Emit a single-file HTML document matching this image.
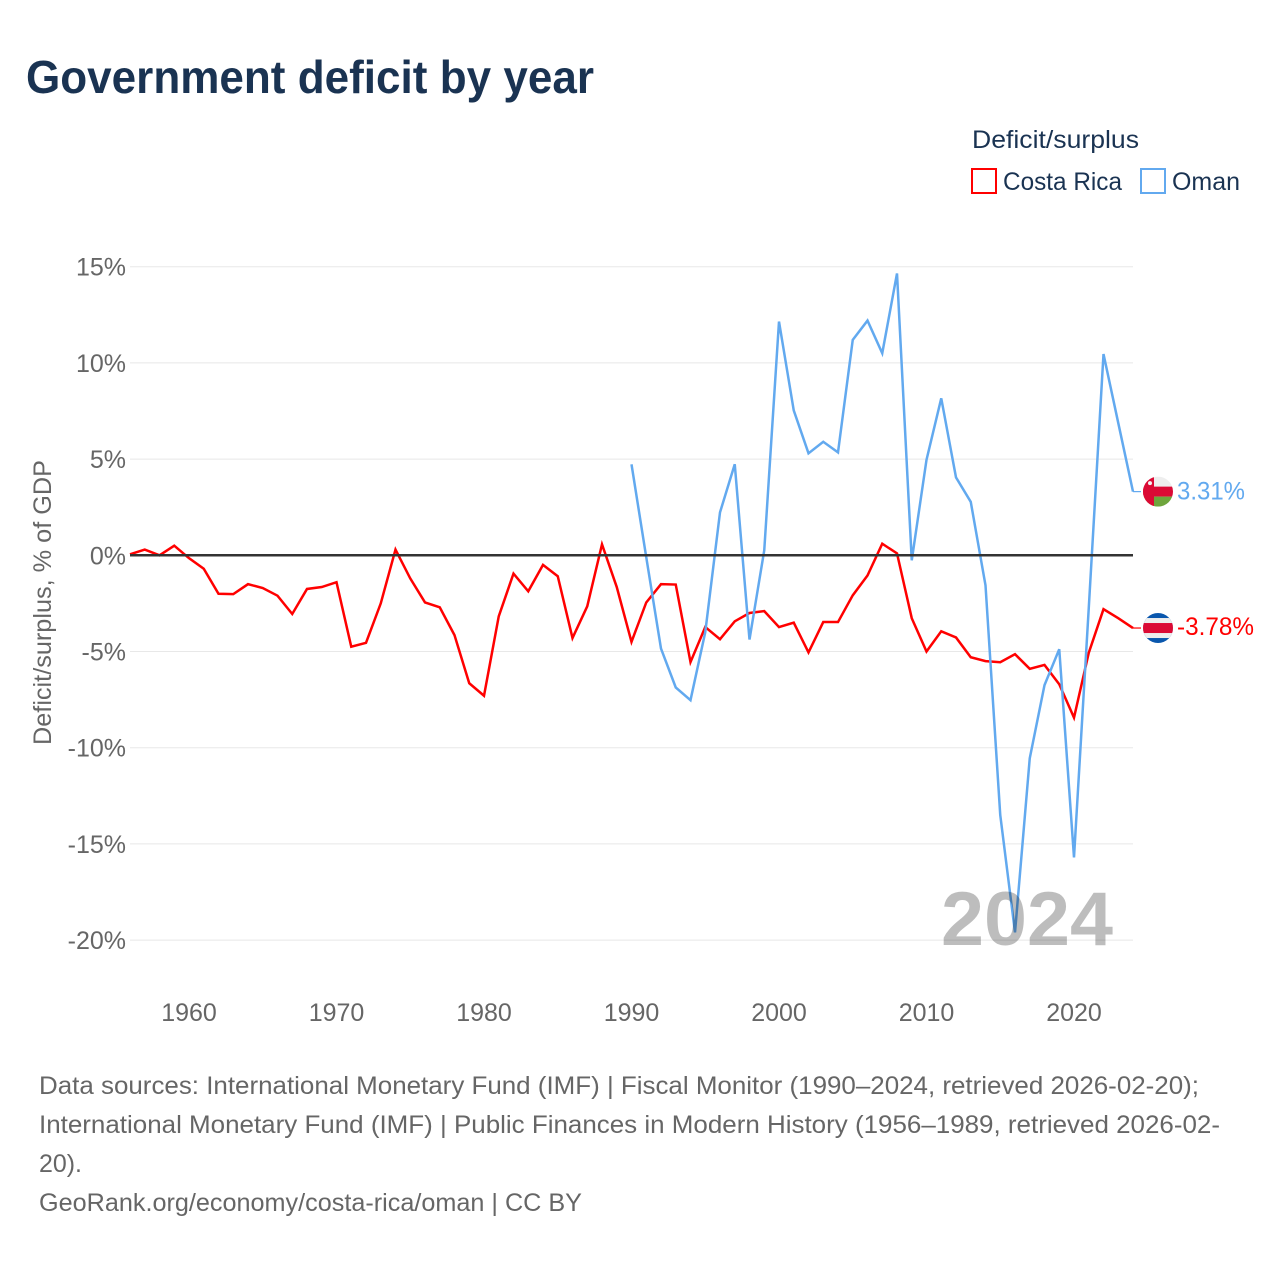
<!DOCTYPE html>
<html lang="en">
<head>
<meta charset="utf-8">
<title>Government deficit by year</title>
<style>
html,body{margin:0;padding:0;background:#fff;}
svg{display:block;font-family:"Liberation Sans",sans-serif;}
</style>
</head>
<body>
<svg id="chart" width="1280" height="1280" viewBox="0 0 1280 1280" xmlns="http://www.w3.org/2000/svg">
  <defs>
    <clipPath id="flag-clip"><circle cx="0" cy="0" r="15"/></clipPath>
  </defs>
  <text x="26" y="93" font-size="46" font-weight="700" fill="#1a3352" textLength="568" lengthAdjust="spacingAndGlyphs">Government deficit by year</text>

  <g>
    <text x="972" y="148" font-size="25" fill="#1a3352" textLength="167" lengthAdjust="spacingAndGlyphs">Deficit/surplus</text>
    <rect x="972" y="169" width="24" height="24" fill="none" stroke="#ff0000" stroke-width="2"/>
    <text x="1003" y="190" font-size="25" fill="#1a3352" textLength="119" lengthAdjust="spacingAndGlyphs">Costa Rica</text>
    <rect x="1141" y="169" width="24" height="24" fill="none" stroke="#62a9ef" stroke-width="2"/>
    <text x="1172" y="190" font-size="25" fill="#1a3352" textLength="68" lengthAdjust="spacingAndGlyphs">Oman</text>
  </g>

  <text transform="translate(51,745) rotate(-90)" font-size="25" fill="#666666" textLength="285" lengthAdjust="spacingAndGlyphs">Deficit/surplus, % of GDP</text>

  <g id="grid"></g>
  <g id="yticks"></g>
  <g id="xticks"></g>
  <g id="series"></g>
  <line id="zero" stroke="#333333" stroke-width="2.5"/>

  <text x="941" y="945" font-size="76" font-weight="700" fill="#000000" fill-opacity="0.26" textLength="172" lengthAdjust="spacingAndGlyphs">2024</text>

  <g id="end-oman">
    <g clip-path="url(#flag-clip)">
      <rect x="-15" y="-15" width="30" height="10" fill="#eeeeee"/>
      <rect x="-15" y="-5" width="30" height="10" fill="#db0a35"/>
      <rect x="-15" y="5" width="30" height="10" fill="#6ea53c"/>
      <rect x="-15" y="-15" width="11" height="30" fill="#db0a35"/>
      <circle cx="-8" cy="-8.5" r="2" fill="#f2f2f2"/>
    </g>
    <text id="label-oman" x="19" y="8" font-size="25" fill="#62a9ef" textLength="68" lengthAdjust="spacingAndGlyphs"></text>
  </g>
  <g id="end-costa">
    <g clip-path="url(#flag-clip)">
      <rect x="-15" y="-15" width="30" height="30" fill="#0a57ad"/>
      <rect x="-15" y="-10" width="30" height="20" fill="#eeeeee"/>
      <rect x="-15" y="-5" width="30" height="10" fill="#db0a35"/>
    </g>
    <text id="label-costa" x="19" y="7" font-size="25" fill="#ff0000" textLength="77" lengthAdjust="spacingAndGlyphs"></text>
  </g>

  <g font-size="25" fill="#666666">
    <text x="39" y="1094" textLength="1160" lengthAdjust="spacingAndGlyphs">Data sources: International Monetary Fund (IMF) | Fiscal Monitor (1990–2024, retrieved 2026-02-20);</text>
    <text x="39" y="1133" textLength="1181" lengthAdjust="spacingAndGlyphs">International Monetary Fund (IMF) | Public Finances in Modern History (1956–1989, retrieved 2026-02-</text>
    <text x="39" y="1172" textLength="43" lengthAdjust="spacingAndGlyphs">20).</text>
    <text x="39" y="1211" textLength="543" lengthAdjust="spacingAndGlyphs">GeoRank.org/economy/costa-rica/oman | CC BY</text>
  </g>
</svg>
<script>
var costaYears = [1956,1957,1958,1959,1960,1961,1962,1963,1964,1965,1966,1967,1968,1969,1970,1971,1972,1973,1974,1975,1976,1977,1978,1979,1980,1981,1982,1983,1984,1985,1986,1987,1988,1989,1990,1991,1992,1993,1994,1995,1996,1997,1998,1999,2000,2001,2002,2003,2004,2005,2006,2007,2008,2009,2010,2011,2012,2013,2014,2015,2016,2017,2018,2019,2020,2021,2022,2023,2024];
var costaValues = [0.05,0.3,0.0,0.5,-0.15,-0.7,-2.0,-2.02,-1.5,-1.7,-2.1,-3.05,-1.75,-1.65,-1.4,-4.75,-4.55,-2.5,0.3,-1.2,-2.45,-2.7,-4.15,-6.65,-7.3,-3.17,-0.95,-1.87,-0.5,-1.09,-4.3,-2.65,0.57,-1.65,-4.5,-2.45,-1.5,-1.52,-5.55,-3.73,-4.36,-3.43,-3.0,-2.9,-3.73,-3.5,-5.05,-3.47,-3.47,-2.08,-1.05,0.6,0.1,-3.27,-5.0,-3.95,-4.27,-5.3,-5.5,-5.56,-5.14,-5.9,-5.7,-6.7,-8.44,-5.07,-2.8,-3.27,-3.78];
var omanYears = [1990,1991,1992,1993,1994,1995,1996,1997,1998,1999,2000,2001,2002,2003,2004,2005,2006,2007,2008,2009,2010,2011,2012,2013,2014,2015,2016,2017,2018,2019,2020,2021,2022,2023,2024];
var omanValues = [4.73,-0.1,-4.85,-6.87,-7.53,-4.0,2.23,4.73,-4.38,0.26,12.15,7.53,5.3,5.9,5.35,11.2,12.2,10.5,14.65,-0.26,4.96,8.16,4.05,2.78,-1.56,-13.5,-19.6,-10.55,-6.75,-4.88,-15.7,-2.75,10.46,6.88,3.31];
var yTickValues = [15,10,5,0,-5,-10,-15,-20];
var yTickLabels = ["15%","10%","5%","0%","-5%","-10%","-15%","-20%"];
var xTickValues = [1960,1970,1980,1990,2000,2010,2020];
var xTickLabels = ["1960","1970","1980","1990","2000","2010","2020"];

var NS = "http://www.w3.org/2000/svg";
var plotLeft = 130, plotRight = 1133, yearMin = 1956, yearMax = 2024;
var zeroY = 555.3, pxPerUnit = 19.24;
function xScale(year){ return plotLeft + (year - yearMin) * (plotRight - plotLeft) / (yearMax - yearMin); }
function yScale(v){ return zeroY - v * pxPerUnit; }
function fmtEnd(v){ return v.toFixed(2) + "%"; }

var grid = document.getElementById("grid");
var yticks = document.getElementById("yticks");
var xticks = document.getElementById("xticks");
var series = document.getElementById("series");

yTickValues.forEach(function(v, i){
  var ln = document.createElementNS(NS, "line");
  ln.setAttribute("x1", plotLeft);
  ln.setAttribute("x2", plotRight);
  ln.setAttribute("y1", yScale(v));
  ln.setAttribute("y2", yScale(v));
  ln.setAttribute("stroke", "#e8e8e8");
  ln.setAttribute("stroke-width", "1");
  
  
  grid.appendChild(ln);
  var t = document.createElementNS(NS, "text");
  t.setAttribute("x", 126);
  t.setAttribute("y", yScale(v) + 9);
  t.setAttribute("text-anchor", "end");
  t.setAttribute("font-size", "25");
  t.setAttribute("fill", "#666666");
  t.textContent = yTickLabels[i];
  
  
  yticks.appendChild(t);
});

xTickValues.forEach(function(v, i){
  var t = document.createElementNS(NS, "text");
  t.setAttribute("x", xScale(v));
  t.setAttribute("y", 1021);
  t.setAttribute("text-anchor", "middle");
  t.setAttribute("font-size", "25");
  t.setAttribute("fill", "#666666");
  t.textContent = xTickLabels[i];
  
  
  xticks.appendChild(t);
});

function drawLine(years, values, color, name){
  var pts = years.map(function(y, i){ return xScale(y).toFixed(2) + "," + yScale(values[i]).toFixed(2); }).join(" ");
  var pl = document.createElementNS(NS, "polyline");
  pl.setAttribute("points", pts);
  pl.setAttribute("fill", "none");
  pl.setAttribute("stroke", color);
  pl.setAttribute("stroke-width", "2.5");
  pl.setAttribute("stroke-linejoin", "miter");
  
  
  series.appendChild(pl);
  var lastY = yScale(values[values.length - 1]);
  var c = document.createElementNS(NS, "line");
  c.setAttribute("x1", xScale(years[years.length - 1]));
  c.setAttribute("x2", xScale(years[years.length - 1]) + 8);
  c.setAttribute("y1", lastY);
  c.setAttribute("y2", lastY);
  c.setAttribute("stroke", color);
  c.setAttribute("stroke-width", "1.2");
  
  
  series.appendChild(c);
}
drawLine(costaYears, costaValues, "#ff0000", "line-costa-rica");
drawLine(omanYears, omanValues, "#62a9ef", "line-oman");

var zero = document.getElementById("zero");
zero.setAttribute("x1", plotLeft);
zero.setAttribute("x2", plotRight);
zero.setAttribute("y1", yScale(0));
zero.setAttribute("y2", yScale(0));

var omanEnd = omanValues[omanValues.length - 1];
var costaEnd = costaValues[costaValues.length - 1];
document.getElementById("end-oman").setAttribute("transform", "translate(1158," + yScale(omanEnd) + ")");
document.getElementById("end-costa").setAttribute("transform", "translate(1158," + yScale(costaEnd) + ")");
document.getElementById("label-oman").textContent = fmtEnd(omanEnd);
document.getElementById("label-costa").textContent = fmtEnd(costaEnd);
</script>
</body>
</html>
